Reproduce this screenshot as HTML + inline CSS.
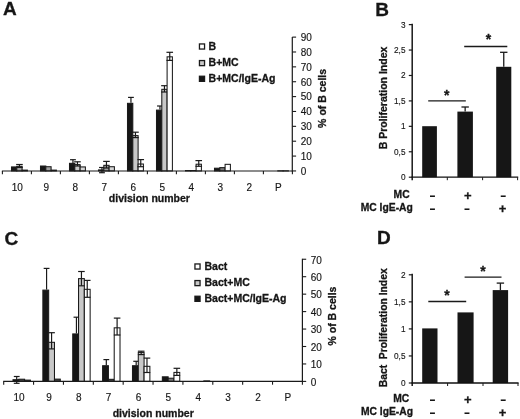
<!DOCTYPE html>
<html><head><meta charset="utf-8"><title>Figure</title>
<style>
html,body{margin:0;padding:0;background:#fff;}
text{white-space:pre;}
svg{display:block;font-family:"Liberation Sans",sans-serif;fill:#161616;filter:grayscale(100%);}
</style></head><body>
<svg width="520" height="419" viewBox="0 0 520 419">
<rect x="0" y="0" width="520" height="419" fill="#ffffff"/>
<rect x="11.50" y="166.93" width="5.30" height="4.02" fill="#161616" stroke="#1a1a1a" stroke-width="1.05"/>
<rect x="16.80" y="166.33" width="5.30" height="4.62" fill="#a0a0a0" stroke="#1a1a1a" stroke-width="1.05"/>
<line x1="19.45" y1="164.50" x2="19.45" y2="167.40" stroke="#1a1a1a" stroke-width="1.2"/>
<line x1="16.15" y1="164.50" x2="22.75" y2="164.50" stroke="#1a1a1a" stroke-width="1.2"/>
<line x1="16.15" y1="167.40" x2="22.75" y2="167.40" stroke="#1a1a1a" stroke-width="1.2"/>
<rect x="22.10" y="170.12" width="5.30" height="0.82" fill="#444444" stroke="#1a1a1a" stroke-width="1.05"/>
<rect x="40.50" y="166.03" width="5.30" height="4.92" fill="#161616" stroke="#1a1a1a" stroke-width="1.05"/>
<rect x="45.80" y="166.72" width="5.30" height="4.22" fill="#a0a0a0" stroke="#1a1a1a" stroke-width="1.05"/>
<rect x="51.10" y="170.12" width="5.30" height="0.82" fill="#444444" stroke="#1a1a1a" stroke-width="1.05"/>
<rect x="69.50" y="163.33" width="5.30" height="7.62" fill="#161616" stroke="#1a1a1a" stroke-width="1.05"/>
<line x1="72.95" y1="159.70" x2="72.95" y2="164.60" stroke="#1a1a1a" stroke-width="1.2"/>
<line x1="70.05" y1="159.70" x2="75.85" y2="159.70" stroke="#1a1a1a" stroke-width="1.2"/>
<line x1="70.05" y1="164.60" x2="75.85" y2="164.60" stroke="#1a1a1a" stroke-width="1.2"/>
<rect x="74.80" y="164.62" width="5.30" height="6.32" fill="#c8c8c8" stroke="#1a1a1a" stroke-width="1.05"/>
<line x1="77.45" y1="161.80" x2="77.45" y2="166.00" stroke="#1a1a1a" stroke-width="1.2"/>
<line x1="74.15" y1="161.80" x2="80.75" y2="161.80" stroke="#1a1a1a" stroke-width="1.2"/>
<line x1="74.15" y1="166.00" x2="80.75" y2="166.00" stroke="#1a1a1a" stroke-width="1.2"/>
<rect x="80.10" y="166.93" width="5.30" height="4.02" fill="#d4d4d4" stroke="#1a1a1a" stroke-width="1.05"/>
<rect x="98.50" y="169.93" width="5.30" height="1.02" fill="#161616" stroke="#1a1a1a" stroke-width="1.05"/>
<line x1="101.95" y1="167.50" x2="101.95" y2="172.70" stroke="#1a1a1a" stroke-width="1.2"/>
<line x1="99.05" y1="167.50" x2="104.85" y2="167.50" stroke="#1a1a1a" stroke-width="1.2"/>
<line x1="99.05" y1="172.70" x2="104.85" y2="172.70" stroke="#1a1a1a" stroke-width="1.2"/>
<rect x="103.80" y="165.33" width="5.30" height="5.62" fill="#a0a0a0" stroke="#1a1a1a" stroke-width="1.05"/>
<line x1="106.45" y1="161.40" x2="106.45" y2="168.00" stroke="#1a1a1a" stroke-width="1.2"/>
<line x1="103.15" y1="161.40" x2="109.75" y2="161.40" stroke="#1a1a1a" stroke-width="1.2"/>
<line x1="103.15" y1="168.00" x2="109.75" y2="168.00" stroke="#1a1a1a" stroke-width="1.2"/>
<rect x="109.10" y="166.72" width="5.30" height="4.22" fill="#d4d4d4" stroke="#1a1a1a" stroke-width="1.05"/>
<rect x="127.50" y="103.33" width="5.30" height="67.62" fill="#161616" stroke="#1a1a1a" stroke-width="1.05"/>
<line x1="130.95" y1="97.40" x2="130.95" y2="102.80" stroke="#1a1a1a" stroke-width="1.2"/>
<line x1="128.05" y1="97.40" x2="133.85" y2="97.40" stroke="#1a1a1a" stroke-width="1.2"/>
<rect x="132.80" y="135.62" width="5.30" height="35.32" fill="#c8c8c8" stroke="#1a1a1a" stroke-width="1.05"/>
<line x1="135.45" y1="132.20" x2="135.45" y2="137.60" stroke="#1a1a1a" stroke-width="1.2"/>
<line x1="132.15" y1="132.20" x2="138.75" y2="132.20" stroke="#1a1a1a" stroke-width="1.2"/>
<line x1="132.15" y1="137.60" x2="138.75" y2="137.60" stroke="#1a1a1a" stroke-width="1.2"/>
<rect x="138.10" y="164.03" width="5.30" height="6.92" fill="#ffffff" stroke="#1a1a1a" stroke-width="1.05"/>
<line x1="140.75" y1="159.60" x2="140.75" y2="166.70" stroke="#1a1a1a" stroke-width="1.2"/>
<line x1="137.45" y1="159.60" x2="144.05" y2="159.60" stroke="#1a1a1a" stroke-width="1.2"/>
<line x1="137.45" y1="166.70" x2="144.05" y2="166.70" stroke="#1a1a1a" stroke-width="1.2"/>
<rect x="156.50" y="110.12" width="5.30" height="60.82" fill="#161616" stroke="#1a1a1a" stroke-width="1.05"/>
<line x1="159.95" y1="106.00" x2="159.95" y2="109.60" stroke="#1a1a1a" stroke-width="1.2"/>
<line x1="157.05" y1="106.00" x2="162.85" y2="106.00" stroke="#1a1a1a" stroke-width="1.2"/>
<rect x="161.80" y="89.33" width="5.30" height="81.62" fill="#c8c8c8" stroke="#1a1a1a" stroke-width="1.05"/>
<line x1="164.45" y1="85.70" x2="164.45" y2="92.00" stroke="#1a1a1a" stroke-width="1.2"/>
<line x1="161.15" y1="85.70" x2="167.75" y2="85.70" stroke="#1a1a1a" stroke-width="1.2"/>
<line x1="161.15" y1="92.00" x2="167.75" y2="92.00" stroke="#1a1a1a" stroke-width="1.2"/>
<rect x="167.10" y="56.82" width="5.30" height="114.12" fill="#ffffff" stroke="#1a1a1a" stroke-width="1.05"/>
<line x1="169.75" y1="52.30" x2="169.75" y2="60.40" stroke="#1a1a1a" stroke-width="1.2"/>
<line x1="166.45" y1="52.30" x2="173.05" y2="52.30" stroke="#1a1a1a" stroke-width="1.2"/>
<line x1="166.45" y1="60.40" x2="173.05" y2="60.40" stroke="#1a1a1a" stroke-width="1.2"/>
<rect x="185.50" y="170.53" width="5.30" height="0.42" fill="#161616" stroke="#1a1a1a" stroke-width="1.05"/>
<rect x="190.80" y="170.53" width="5.30" height="0.42" fill="#444444" stroke="#1a1a1a" stroke-width="1.05"/>
<rect x="196.10" y="164.22" width="5.30" height="6.72" fill="#ffffff" stroke="#1a1a1a" stroke-width="1.05"/>
<line x1="198.75" y1="160.60" x2="198.75" y2="166.30" stroke="#1a1a1a" stroke-width="1.2"/>
<line x1="195.45" y1="160.60" x2="202.05" y2="160.60" stroke="#1a1a1a" stroke-width="1.2"/>
<line x1="195.45" y1="166.30" x2="202.05" y2="166.30" stroke="#1a1a1a" stroke-width="1.2"/>
<rect x="214.50" y="168.22" width="5.30" height="2.73" fill="#161616" stroke="#1a1a1a" stroke-width="1.05"/>
<rect x="219.80" y="167.62" width="5.30" height="3.32" fill="#777777" stroke="#1a1a1a" stroke-width="1.05"/>
<rect x="225.10" y="164.33" width="5.30" height="6.62" fill="#ffffff" stroke="#1a1a1a" stroke-width="1.05"/>
<rect x="277.80" y="170.83" width="5.30" height="0.12" fill="#444444" stroke="#1a1a1a" stroke-width="1.05"/>
<rect x="283.10" y="170.83" width="5.30" height="0.12" fill="#444444" stroke="#1a1a1a" stroke-width="1.05"/>
<line x1="1.90" y1="170.95" x2="292.90" y2="170.95" stroke="#1a1a1a" stroke-width="1.1"/>
<line x1="2.40" y1="170.95" x2="2.40" y2="174.25" stroke="#1a1a1a" stroke-width="1.1"/>
<line x1="31.40" y1="170.95" x2="31.40" y2="174.25" stroke="#1a1a1a" stroke-width="1.1"/>
<line x1="60.40" y1="170.95" x2="60.40" y2="174.25" stroke="#1a1a1a" stroke-width="1.1"/>
<line x1="89.40" y1="170.95" x2="89.40" y2="174.25" stroke="#1a1a1a" stroke-width="1.1"/>
<line x1="118.40" y1="170.95" x2="118.40" y2="174.25" stroke="#1a1a1a" stroke-width="1.1"/>
<line x1="147.40" y1="170.95" x2="147.40" y2="174.25" stroke="#1a1a1a" stroke-width="1.1"/>
<line x1="176.40" y1="170.95" x2="176.40" y2="174.25" stroke="#1a1a1a" stroke-width="1.1"/>
<line x1="205.40" y1="170.95" x2="205.40" y2="174.25" stroke="#1a1a1a" stroke-width="1.1"/>
<line x1="234.40" y1="170.95" x2="234.40" y2="174.25" stroke="#1a1a1a" stroke-width="1.1"/>
<line x1="263.40" y1="170.95" x2="263.40" y2="174.25" stroke="#1a1a1a" stroke-width="1.1"/>
<line x1="292.40" y1="170.95" x2="292.40" y2="174.25" stroke="#1a1a1a" stroke-width="1.1"/>
<line x1="292.30" y1="36.90" x2="292.30" y2="171.45" stroke="#1a1a1a" stroke-width="1.2"/>
<line x1="292.30" y1="170.95" x2="296.10" y2="170.95" stroke="#1a1a1a" stroke-width="1.1"/>
<text x="300.70" y="174.75" font-size="10" stroke="#161616" stroke-width="0.15" text-anchor="start" xml:space="preserve">0</text>
<line x1="292.30" y1="156.08" x2="296.10" y2="156.08" stroke="#1a1a1a" stroke-width="1.1"/>
<text x="300.70" y="159.88" font-size="10" stroke="#161616" stroke-width="0.15" text-anchor="start" xml:space="preserve">10</text>
<line x1="292.30" y1="141.21" x2="296.10" y2="141.21" stroke="#1a1a1a" stroke-width="1.1"/>
<text x="300.70" y="145.01" font-size="10" stroke="#161616" stroke-width="0.15" text-anchor="start" xml:space="preserve">20</text>
<line x1="292.30" y1="126.34" x2="296.10" y2="126.34" stroke="#1a1a1a" stroke-width="1.1"/>
<text x="300.70" y="130.14" font-size="10" stroke="#161616" stroke-width="0.15" text-anchor="start" xml:space="preserve">30</text>
<line x1="292.30" y1="111.47" x2="296.10" y2="111.47" stroke="#1a1a1a" stroke-width="1.1"/>
<text x="300.70" y="115.27" font-size="10" stroke="#161616" stroke-width="0.15" text-anchor="start" xml:space="preserve">40</text>
<line x1="292.30" y1="96.60" x2="296.10" y2="96.60" stroke="#1a1a1a" stroke-width="1.1"/>
<text x="300.70" y="100.40" font-size="10" stroke="#161616" stroke-width="0.15" text-anchor="start" xml:space="preserve">50</text>
<line x1="292.30" y1="81.73" x2="296.10" y2="81.73" stroke="#1a1a1a" stroke-width="1.1"/>
<text x="300.70" y="85.53" font-size="10" stroke="#161616" stroke-width="0.15" text-anchor="start" xml:space="preserve">60</text>
<line x1="292.30" y1="66.86" x2="296.10" y2="66.86" stroke="#1a1a1a" stroke-width="1.1"/>
<text x="300.70" y="70.66" font-size="10" stroke="#161616" stroke-width="0.15" text-anchor="start" xml:space="preserve">70</text>
<line x1="292.30" y1="51.99" x2="296.10" y2="51.99" stroke="#1a1a1a" stroke-width="1.1"/>
<text x="300.70" y="55.79" font-size="10" stroke="#161616" stroke-width="0.15" text-anchor="start" xml:space="preserve">80</text>
<line x1="292.30" y1="37.12" x2="296.10" y2="37.12" stroke="#1a1a1a" stroke-width="1.1"/>
<text x="300.70" y="40.92" font-size="10" stroke="#161616" stroke-width="0.15" text-anchor="start" xml:space="preserve">90</text>
<text x="17.30" y="190.90" font-size="10" stroke="#161616" stroke-width="0.15" text-anchor="middle" xml:space="preserve">10</text>
<text x="46.30" y="190.90" font-size="10" stroke="#161616" stroke-width="0.15" text-anchor="middle" xml:space="preserve">9</text>
<text x="75.30" y="190.90" font-size="10" stroke="#161616" stroke-width="0.15" text-anchor="middle" xml:space="preserve">8</text>
<text x="104.30" y="190.90" font-size="10" stroke="#161616" stroke-width="0.15" text-anchor="middle" xml:space="preserve">7</text>
<text x="133.30" y="190.90" font-size="10" stroke="#161616" stroke-width="0.15" text-anchor="middle" xml:space="preserve">6</text>
<text x="162.30" y="190.90" font-size="10" stroke="#161616" stroke-width="0.15" text-anchor="middle" xml:space="preserve">5</text>
<text x="191.30" y="190.90" font-size="10" stroke="#161616" stroke-width="0.15" text-anchor="middle" xml:space="preserve">4</text>
<text x="220.30" y="190.90" font-size="10" stroke="#161616" stroke-width="0.15" text-anchor="middle" xml:space="preserve">3</text>
<text x="249.30" y="190.90" font-size="10" stroke="#161616" stroke-width="0.15" text-anchor="middle" xml:space="preserve">2</text>
<text x="278.30" y="190.90" font-size="10" stroke="#161616" stroke-width="0.15" text-anchor="middle" xml:space="preserve">P</text>
<text x="149.40" y="201.90" font-size="10.5" font-weight="bold" stroke="#161616" stroke-width="0.3" text-anchor="middle" xml:space="preserve">division number</text>
<text x="325.90" y="98.40" font-size="10.5" font-weight="bold" stroke="#161616" stroke-width="0.3" text-anchor="middle" transform="rotate(-90 325.90 98.40)" xml:space="preserve">% of B cells</text>
<rect x="199.45" y="43.95" width="5.10" height="5.10" fill="#ffffff" stroke="#1a1a1a" stroke-width="1.3"/>
<text x="208.60" y="49.60" font-size="10.5" font-weight="bold" stroke="#161616" stroke-width="0.3" text-anchor="start" xml:space="preserve">B</text>
<rect x="199.45" y="60.55" width="5.10" height="5.10" fill="#c8c8c8" stroke="#1a1a1a" stroke-width="1.3"/>
<text x="208.60" y="66.30" font-size="10.5" font-weight="bold" stroke="#161616" stroke-width="0.3" text-anchor="start" xml:space="preserve">B+MC</text>
<rect x="199.45" y="76.25" width="5.10" height="5.10" fill="#161616" stroke="#1a1a1a" stroke-width="1.3"/>
<text x="208.60" y="81.90" font-size="10.5" font-weight="bold" stroke="#161616" stroke-width="0.3" text-anchor="start" xml:space="preserve">B+MC/IgE-Ag</text>
<text x="2.90" y="15.00" font-size="19" font-weight="bold" stroke="#161616" stroke-width="0.3" text-anchor="start" xml:space="preserve">A</text>
<rect x="13.00" y="379.72" width="5.80" height="1.67" fill="#161616" stroke="#1a1a1a" stroke-width="1.05"/>
<line x1="16.70" y1="376.50" x2="16.70" y2="383.30" stroke="#1a1a1a" stroke-width="1.2"/>
<line x1="13.80" y1="376.50" x2="19.60" y2="376.50" stroke="#1a1a1a" stroke-width="1.2"/>
<line x1="13.80" y1="383.30" x2="19.60" y2="383.30" stroke="#1a1a1a" stroke-width="1.2"/>
<rect x="18.80" y="379.22" width="5.80" height="2.17" fill="#444444" stroke="#1a1a1a" stroke-width="1.05"/>
<rect x="24.60" y="380.12" width="5.80" height="1.27" fill="#444444" stroke="#1a1a1a" stroke-width="1.05"/>
<rect x="42.87" y="290.12" width="5.80" height="91.27" fill="#161616" stroke="#1a1a1a" stroke-width="1.05"/>
<line x1="46.57" y1="268.40" x2="46.57" y2="289.60" stroke="#1a1a1a" stroke-width="1.2"/>
<line x1="43.67" y1="268.40" x2="49.47" y2="268.40" stroke="#1a1a1a" stroke-width="1.2"/>
<rect x="48.67" y="342.32" width="5.80" height="39.07" fill="#c8c8c8" stroke="#1a1a1a" stroke-width="1.05"/>
<line x1="51.57" y1="332.70" x2="51.57" y2="348.90" stroke="#1a1a1a" stroke-width="1.2"/>
<line x1="48.27" y1="332.70" x2="54.87" y2="332.70" stroke="#1a1a1a" stroke-width="1.2"/>
<line x1="48.27" y1="348.90" x2="54.87" y2="348.90" stroke="#1a1a1a" stroke-width="1.2"/>
<rect x="54.47" y="379.12" width="5.80" height="2.27" fill="#444444" stroke="#1a1a1a" stroke-width="1.05"/>
<rect x="72.74" y="333.92" width="5.80" height="47.48" fill="#161616" stroke="#1a1a1a" stroke-width="1.05"/>
<line x1="76.44" y1="317.20" x2="76.44" y2="333.40" stroke="#1a1a1a" stroke-width="1.2"/>
<line x1="73.54" y1="317.20" x2="79.34" y2="317.20" stroke="#1a1a1a" stroke-width="1.2"/>
<rect x="78.54" y="278.62" width="5.80" height="102.77" fill="#c8c8c8" stroke="#1a1a1a" stroke-width="1.05"/>
<line x1="81.44" y1="271.50" x2="81.44" y2="285.80" stroke="#1a1a1a" stroke-width="1.2"/>
<line x1="78.14" y1="271.50" x2="84.74" y2="271.50" stroke="#1a1a1a" stroke-width="1.2"/>
<line x1="78.14" y1="285.80" x2="84.74" y2="285.80" stroke="#1a1a1a" stroke-width="1.2"/>
<rect x="84.34" y="289.32" width="5.80" height="92.07" fill="#ffffff" stroke="#1a1a1a" stroke-width="1.05"/>
<line x1="87.24" y1="280.40" x2="87.24" y2="297.30" stroke="#1a1a1a" stroke-width="1.2"/>
<line x1="83.94" y1="280.40" x2="90.54" y2="280.40" stroke="#1a1a1a" stroke-width="1.2"/>
<line x1="83.94" y1="297.30" x2="90.54" y2="297.30" stroke="#1a1a1a" stroke-width="1.2"/>
<rect x="102.61" y="365.72" width="5.80" height="15.67" fill="#161616" stroke="#1a1a1a" stroke-width="1.05"/>
<line x1="106.31" y1="359.60" x2="106.31" y2="365.20" stroke="#1a1a1a" stroke-width="1.2"/>
<line x1="103.41" y1="359.60" x2="109.21" y2="359.60" stroke="#1a1a1a" stroke-width="1.2"/>
<rect x="108.41" y="379.32" width="5.80" height="2.07" fill="#444444" stroke="#1a1a1a" stroke-width="1.05"/>
<rect x="114.21" y="327.82" width="5.80" height="53.57" fill="#ffffff" stroke="#1a1a1a" stroke-width="1.05"/>
<line x1="117.11" y1="318.10" x2="117.11" y2="335.00" stroke="#1a1a1a" stroke-width="1.2"/>
<line x1="113.81" y1="318.10" x2="120.41" y2="318.10" stroke="#1a1a1a" stroke-width="1.2"/>
<line x1="113.81" y1="335.00" x2="120.41" y2="335.00" stroke="#1a1a1a" stroke-width="1.2"/>
<rect x="132.48" y="365.72" width="5.80" height="15.67" fill="#161616" stroke="#1a1a1a" stroke-width="1.05"/>
<line x1="136.18" y1="361.30" x2="136.18" y2="365.20" stroke="#1a1a1a" stroke-width="1.2"/>
<line x1="133.28" y1="361.30" x2="139.08" y2="361.30" stroke="#1a1a1a" stroke-width="1.2"/>
<rect x="138.28" y="352.42" width="5.80" height="28.98" fill="#c8c8c8" stroke="#1a1a1a" stroke-width="1.05"/>
<line x1="141.18" y1="351.20" x2="141.18" y2="354.60" stroke="#1a1a1a" stroke-width="1.2"/>
<line x1="137.88" y1="351.20" x2="144.48" y2="351.20" stroke="#1a1a1a" stroke-width="1.2"/>
<line x1="137.88" y1="354.60" x2="144.48" y2="354.60" stroke="#1a1a1a" stroke-width="1.2"/>
<rect x="144.08" y="366.32" width="5.80" height="15.07" fill="#ffffff" stroke="#1a1a1a" stroke-width="1.05"/>
<line x1="146.98" y1="358.10" x2="146.98" y2="372.50" stroke="#1a1a1a" stroke-width="1.2"/>
<line x1="143.68" y1="358.10" x2="150.28" y2="358.10" stroke="#1a1a1a" stroke-width="1.2"/>
<line x1="143.68" y1="372.50" x2="150.28" y2="372.50" stroke="#1a1a1a" stroke-width="1.2"/>
<rect x="162.35" y="376.82" width="5.80" height="4.57" fill="#161616" stroke="#1a1a1a" stroke-width="1.05"/>
<rect x="168.15" y="378.22" width="5.80" height="3.17" fill="#777777" stroke="#1a1a1a" stroke-width="1.05"/>
<rect x="173.95" y="372.42" width="5.80" height="8.97" fill="#ffffff" stroke="#1a1a1a" stroke-width="1.05"/>
<line x1="176.85" y1="368.30" x2="176.85" y2="375.40" stroke="#1a1a1a" stroke-width="1.2"/>
<line x1="173.55" y1="368.30" x2="180.15" y2="368.30" stroke="#1a1a1a" stroke-width="1.2"/>
<line x1="173.55" y1="375.40" x2="180.15" y2="375.40" stroke="#1a1a1a" stroke-width="1.2"/>
<rect x="203.82" y="380.92" width="5.80" height="0.47" fill="#444444" stroke="#1a1a1a" stroke-width="1.05"/>
<line x1="3.20" y1="381.40" x2="302.90" y2="381.40" stroke="#1a1a1a" stroke-width="1.1"/>
<line x1="3.70" y1="381.40" x2="3.70" y2="384.70" stroke="#1a1a1a" stroke-width="1.1"/>
<line x1="33.57" y1="381.40" x2="33.57" y2="384.70" stroke="#1a1a1a" stroke-width="1.1"/>
<line x1="63.44" y1="381.40" x2="63.44" y2="384.70" stroke="#1a1a1a" stroke-width="1.1"/>
<line x1="93.31" y1="381.40" x2="93.31" y2="384.70" stroke="#1a1a1a" stroke-width="1.1"/>
<line x1="123.18" y1="381.40" x2="123.18" y2="384.70" stroke="#1a1a1a" stroke-width="1.1"/>
<line x1="153.05" y1="381.40" x2="153.05" y2="384.70" stroke="#1a1a1a" stroke-width="1.1"/>
<line x1="182.92" y1="381.40" x2="182.92" y2="384.70" stroke="#1a1a1a" stroke-width="1.1"/>
<line x1="212.79" y1="381.40" x2="212.79" y2="384.70" stroke="#1a1a1a" stroke-width="1.1"/>
<line x1="242.66" y1="381.40" x2="242.66" y2="384.70" stroke="#1a1a1a" stroke-width="1.1"/>
<line x1="272.53" y1="381.40" x2="272.53" y2="384.70" stroke="#1a1a1a" stroke-width="1.1"/>
<line x1="302.40" y1="381.40" x2="302.40" y2="384.70" stroke="#1a1a1a" stroke-width="1.1"/>
<line x1="302.40" y1="258.70" x2="302.40" y2="381.90" stroke="#1a1a1a" stroke-width="1.2"/>
<line x1="302.40" y1="381.40" x2="306.20" y2="381.40" stroke="#1a1a1a" stroke-width="1.1"/>
<text x="310.80" y="385.70" font-size="10" stroke="#161616" stroke-width="0.15" text-anchor="start" xml:space="preserve">0</text>
<line x1="302.40" y1="363.95" x2="306.20" y2="363.95" stroke="#1a1a1a" stroke-width="1.1"/>
<text x="310.80" y="368.25" font-size="10" stroke="#161616" stroke-width="0.15" text-anchor="start" xml:space="preserve">10</text>
<line x1="302.40" y1="346.50" x2="306.20" y2="346.50" stroke="#1a1a1a" stroke-width="1.1"/>
<text x="310.80" y="350.80" font-size="10" stroke="#161616" stroke-width="0.15" text-anchor="start" xml:space="preserve">20</text>
<line x1="302.40" y1="329.05" x2="306.20" y2="329.05" stroke="#1a1a1a" stroke-width="1.1"/>
<text x="310.80" y="333.35" font-size="10" stroke="#161616" stroke-width="0.15" text-anchor="start" xml:space="preserve">30</text>
<line x1="302.40" y1="311.60" x2="306.20" y2="311.60" stroke="#1a1a1a" stroke-width="1.1"/>
<text x="310.80" y="315.90" font-size="10" stroke="#161616" stroke-width="0.15" text-anchor="start" xml:space="preserve">40</text>
<line x1="302.40" y1="294.15" x2="306.20" y2="294.15" stroke="#1a1a1a" stroke-width="1.1"/>
<text x="310.80" y="298.45" font-size="10" stroke="#161616" stroke-width="0.15" text-anchor="start" xml:space="preserve">50</text>
<line x1="302.40" y1="276.70" x2="306.20" y2="276.70" stroke="#1a1a1a" stroke-width="1.1"/>
<text x="310.80" y="281.00" font-size="10" stroke="#161616" stroke-width="0.15" text-anchor="start" xml:space="preserve">60</text>
<line x1="302.40" y1="259.25" x2="306.20" y2="259.25" stroke="#1a1a1a" stroke-width="1.1"/>
<text x="310.80" y="263.55" font-size="10" stroke="#161616" stroke-width="0.15" text-anchor="start" xml:space="preserve">70</text>
<text x="19.04" y="401.00" font-size="10" stroke="#161616" stroke-width="0.15" text-anchor="middle" xml:space="preserve">10</text>
<text x="48.91" y="401.00" font-size="10" stroke="#161616" stroke-width="0.15" text-anchor="middle" xml:space="preserve">9</text>
<text x="78.78" y="401.00" font-size="10" stroke="#161616" stroke-width="0.15" text-anchor="middle" xml:space="preserve">8</text>
<text x="108.65" y="401.00" font-size="10" stroke="#161616" stroke-width="0.15" text-anchor="middle" xml:space="preserve">7</text>
<text x="138.51" y="401.00" font-size="10" stroke="#161616" stroke-width="0.15" text-anchor="middle" xml:space="preserve">6</text>
<text x="168.38" y="401.00" font-size="10" stroke="#161616" stroke-width="0.15" text-anchor="middle" xml:space="preserve">5</text>
<text x="198.25" y="401.00" font-size="10" stroke="#161616" stroke-width="0.15" text-anchor="middle" xml:space="preserve">4</text>
<text x="228.12" y="401.00" font-size="10" stroke="#161616" stroke-width="0.15" text-anchor="middle" xml:space="preserve">3</text>
<text x="258.00" y="401.00" font-size="10" stroke="#161616" stroke-width="0.15" text-anchor="middle" xml:space="preserve">2</text>
<text x="287.86" y="401.00" font-size="10" stroke="#161616" stroke-width="0.15" text-anchor="middle" xml:space="preserve">P</text>
<text x="153.20" y="417.10" font-size="10.5" font-weight="bold" stroke="#161616" stroke-width="0.3" text-anchor="middle" xml:space="preserve">division number</text>
<text x="335.90" y="316.00" font-size="10.5" font-weight="bold" stroke="#161616" stroke-width="0.3" text-anchor="middle" transform="rotate(-90 335.90 316.00)" xml:space="preserve">% of B cells</text>
<rect x="194.95" y="263.95" width="5.10" height="5.10" fill="#ffffff" stroke="#1a1a1a" stroke-width="1.3"/>
<text x="204.50" y="269.60" font-size="10.5" font-weight="bold" stroke="#161616" stroke-width="0.3" text-anchor="start" xml:space="preserve">Bact</text>
<rect x="194.95" y="280.55" width="5.10" height="5.10" fill="#c8c8c8" stroke="#1a1a1a" stroke-width="1.3"/>
<text x="204.50" y="286.30" font-size="10.5" font-weight="bold" stroke="#161616" stroke-width="0.3" text-anchor="start" xml:space="preserve">Bact+MC</text>
<rect x="194.95" y="296.25" width="5.10" height="5.10" fill="#161616" stroke="#1a1a1a" stroke-width="1.3"/>
<text x="204.50" y="301.90" font-size="10.5" font-weight="bold" stroke="#161616" stroke-width="0.3" text-anchor="start" xml:space="preserve">Bact+MC/IgE-Ag</text>
<text x="4.50" y="245.00" font-size="19" font-weight="bold" stroke="#161616" stroke-width="0.3" text-anchor="start" xml:space="preserve">C</text>
<rect x="422.20" y="126.20" width="14.70" height="51.00" fill="#161616"/>
<rect x="457.40" y="111.60" width="15.50" height="65.60" fill="#161616"/>
<line x1="465.15" y1="107.00" x2="465.15" y2="111.60" stroke="#1a1a1a" stroke-width="1.3"/>
<line x1="461.45" y1="107.00" x2="468.85" y2="107.00" stroke="#1a1a1a" stroke-width="1.3"/>
<rect x="496.20" y="66.80" width="15.10" height="110.40" fill="#161616"/>
<line x1="503.75" y1="52.30" x2="503.75" y2="66.80" stroke="#1a1a1a" stroke-width="1.3"/>
<line x1="500.05" y1="52.30" x2="507.45" y2="52.30" stroke="#1a1a1a" stroke-width="1.3"/>
<line x1="412.20" y1="23.70" x2="412.20" y2="180.20" stroke="#111" stroke-width="1.45"/>
<line x1="411.50" y1="177.20" x2="518.20" y2="177.20" stroke="#111" stroke-width="1.3"/>
<line x1="408.80" y1="177.20" x2="412.00" y2="177.20" stroke="#1a1a1a" stroke-width="1.2"/>
<text transform="translate(405.50 180.10) scale(0.87 1)" font-size="9.5" text-anchor="end" stroke="#161616" stroke-width="0.15">0</text>
<line x1="408.80" y1="151.77" x2="412.00" y2="151.77" stroke="#1a1a1a" stroke-width="1.2"/>
<text transform="translate(405.50 154.67) scale(0.87 1)" font-size="9.5" text-anchor="end" stroke="#161616" stroke-width="0.15">0,5</text>
<line x1="408.80" y1="126.34" x2="412.00" y2="126.34" stroke="#1a1a1a" stroke-width="1.2"/>
<text transform="translate(405.50 129.24) scale(0.87 1)" font-size="9.5" text-anchor="end" stroke="#161616" stroke-width="0.15">1</text>
<line x1="408.80" y1="100.91" x2="412.00" y2="100.91" stroke="#1a1a1a" stroke-width="1.2"/>
<text transform="translate(405.50 103.81) scale(0.87 1)" font-size="9.5" text-anchor="end" stroke="#161616" stroke-width="0.15">1,5</text>
<line x1="408.80" y1="75.48" x2="412.00" y2="75.48" stroke="#1a1a1a" stroke-width="1.2"/>
<text transform="translate(405.50 78.38) scale(0.87 1)" font-size="9.5" text-anchor="end" stroke="#161616" stroke-width="0.15">2</text>
<line x1="408.80" y1="50.05" x2="412.00" y2="50.05" stroke="#1a1a1a" stroke-width="1.2"/>
<text transform="translate(405.50 52.95) scale(0.87 1)" font-size="9.5" text-anchor="end" stroke="#161616" stroke-width="0.15">2,5</text>
<line x1="408.80" y1="24.62" x2="412.00" y2="24.62" stroke="#1a1a1a" stroke-width="1.2"/>
<text transform="translate(405.50 27.52) scale(0.87 1)" font-size="9.5" text-anchor="end" stroke="#161616" stroke-width="0.15">3</text>
<line x1="447.30" y1="177.20" x2="447.30" y2="180.20" stroke="#1a1a1a" stroke-width="1.0"/>
<line x1="482.60" y1="177.20" x2="482.60" y2="180.20" stroke="#1a1a1a" stroke-width="1.0"/>
<line x1="517.60" y1="177.20" x2="517.60" y2="180.20" stroke="#1a1a1a" stroke-width="1.0"/>
<line x1="428.20" y1="100.80" x2="465.80" y2="100.80" stroke="#1a1a1a" stroke-width="1.3"/>
<line x1="464.20" y1="46.50" x2="507.30" y2="46.50" stroke="#1a1a1a" stroke-width="1.3"/>
<text x="446.80" y="99.60" font-size="14" font-weight="bold" stroke="#161616" stroke-width="0.3" text-anchor="middle" xml:space="preserve">*</text>
<text x="488.40" y="44.40" font-size="14" font-weight="bold" stroke="#161616" stroke-width="0.3" text-anchor="middle" xml:space="preserve">*</text>
<text x="386.70" y="98.00" font-size="10.5" font-weight="bold" stroke="#161616" stroke-width="0.3" text-anchor="middle" transform="rotate(-90 386.70 98.00)" xml:space="preserve">B Proliferation Index</text>
<text x="375.20" y="16.20" font-size="19" font-weight="bold" stroke="#161616" stroke-width="0.3" text-anchor="start" xml:space="preserve">B</text>
<text x="409.60" y="198.30" font-size="10.3" font-weight="bold" stroke="#161616" stroke-width="0.3" text-anchor="end" xml:space="preserve">MC</text>
<text x="412.80" y="211.20" font-size="10.3" font-weight="bold" stroke="#161616" stroke-width="0.3" text-anchor="end" xml:space="preserve">MC IgE-Ag</text>
<text transform="translate(432.50 199.80) scale(1.5 1)" font-size="13" font-weight="bold" text-anchor="middle">-</text>
<text x="467.90" y="199.60" font-size="13" font-weight="bold" stroke="#161616" stroke-width="0.3" text-anchor="middle" xml:space="preserve">+</text>
<text transform="translate(503.20 199.80) scale(1.5 1)" font-size="13" font-weight="bold" text-anchor="middle">-</text>
<text transform="translate(432.50 212.90) scale(1.5 1)" font-size="13" font-weight="bold" text-anchor="middle">-</text>
<text transform="translate(467.10 212.90) scale(1.5 1)" font-size="13" font-weight="bold" text-anchor="middle">-</text>
<text x="502.50" y="212.70" font-size="13" font-weight="bold" stroke="#161616" stroke-width="0.3" text-anchor="middle" xml:space="preserve">+</text>
<rect x="422.20" y="328.40" width="15.30" height="54.60" fill="#161616"/>
<rect x="457.50" y="312.40" width="16.10" height="70.60" fill="#161616"/>
<rect x="492.70" y="290.10" width="15.40" height="92.90" fill="#161616"/>
<line x1="500.40" y1="283.10" x2="500.40" y2="290.10" stroke="#1a1a1a" stroke-width="1.3"/>
<line x1="496.70" y1="283.10" x2="504.10" y2="283.10" stroke="#1a1a1a" stroke-width="1.3"/>
<line x1="412.20" y1="273.80" x2="412.20" y2="386.00" stroke="#111" stroke-width="1.45"/>
<line x1="411.50" y1="383.00" x2="518.60" y2="383.00" stroke="#111" stroke-width="1.3"/>
<line x1="408.80" y1="383.00" x2="412.00" y2="383.00" stroke="#1a1a1a" stroke-width="1.2"/>
<text transform="translate(405.50 385.90) scale(0.87 1)" font-size="9.5" text-anchor="end" stroke="#161616" stroke-width="0.15">0</text>
<line x1="408.80" y1="355.95" x2="412.00" y2="355.95" stroke="#1a1a1a" stroke-width="1.2"/>
<text transform="translate(405.50 358.85) scale(0.87 1)" font-size="9.5" text-anchor="end" stroke="#161616" stroke-width="0.15">0,5</text>
<line x1="408.80" y1="328.90" x2="412.00" y2="328.90" stroke="#1a1a1a" stroke-width="1.2"/>
<text transform="translate(405.50 331.80) scale(0.87 1)" font-size="9.5" text-anchor="end" stroke="#161616" stroke-width="0.15">1</text>
<line x1="408.80" y1="301.85" x2="412.00" y2="301.85" stroke="#1a1a1a" stroke-width="1.2"/>
<text transform="translate(405.50 304.75) scale(0.87 1)" font-size="9.5" text-anchor="end" stroke="#161616" stroke-width="0.15">1,5</text>
<line x1="408.80" y1="274.80" x2="412.00" y2="274.80" stroke="#1a1a1a" stroke-width="1.2"/>
<text transform="translate(405.50 277.70) scale(0.87 1)" font-size="9.5" text-anchor="end" stroke="#161616" stroke-width="0.15">2</text>
<line x1="447.60" y1="383.00" x2="447.60" y2="386.00" stroke="#1a1a1a" stroke-width="1.0"/>
<line x1="483.00" y1="383.00" x2="483.00" y2="386.00" stroke="#1a1a1a" stroke-width="1.0"/>
<line x1="518.00" y1="383.00" x2="518.00" y2="386.00" stroke="#1a1a1a" stroke-width="1.0"/>
<line x1="428.30" y1="301.50" x2="466.20" y2="301.50" stroke="#1a1a1a" stroke-width="1.3"/>
<line x1="464.60" y1="277.20" x2="501.50" y2="277.20" stroke="#1a1a1a" stroke-width="1.3"/>
<text x="447.10" y="300.20" font-size="14" font-weight="bold" stroke="#161616" stroke-width="0.3" text-anchor="middle" xml:space="preserve">*</text>
<text x="483.10" y="276.00" font-size="14" font-weight="bold" stroke="#161616" stroke-width="0.3" text-anchor="middle" xml:space="preserve">*</text>
<text x="387.40" y="327.80" font-size="10.35" font-weight="bold" stroke="#161616" stroke-width="0.3" text-anchor="middle" transform="rotate(-90 387.40 327.80)" xml:space="preserve">Bact  Proliferation Index</text>
<text x="377.10" y="244.00" font-size="19" font-weight="bold" stroke="#161616" stroke-width="0.3" text-anchor="start" xml:space="preserve">D</text>
<text x="409.20" y="402.00" font-size="10.3" font-weight="bold" stroke="#161616" stroke-width="0.3" text-anchor="end" xml:space="preserve">MC</text>
<text x="413.00" y="414.70" font-size="10.3" font-weight="bold" stroke="#161616" stroke-width="0.3" text-anchor="end" xml:space="preserve">MC IgE-Ag</text>
<text transform="translate(432.50 403.50) scale(1.5 1)" font-size="13" font-weight="bold" text-anchor="middle">-</text>
<text x="467.90" y="403.80" font-size="13" font-weight="bold" stroke="#161616" stroke-width="0.3" text-anchor="middle" xml:space="preserve">+</text>
<text transform="translate(503.20 403.50) scale(1.5 1)" font-size="13" font-weight="bold" text-anchor="middle">-</text>
<text transform="translate(432.50 416.70) scale(1.5 1)" font-size="13" font-weight="bold" text-anchor="middle">-</text>
<text transform="translate(467.10 416.70) scale(1.5 1)" font-size="13" font-weight="bold" text-anchor="middle">-</text>
<text x="502.50" y="416.60" font-size="13" font-weight="bold" stroke="#161616" stroke-width="0.3" text-anchor="middle" xml:space="preserve">+</text>
</svg>
</body></html>
